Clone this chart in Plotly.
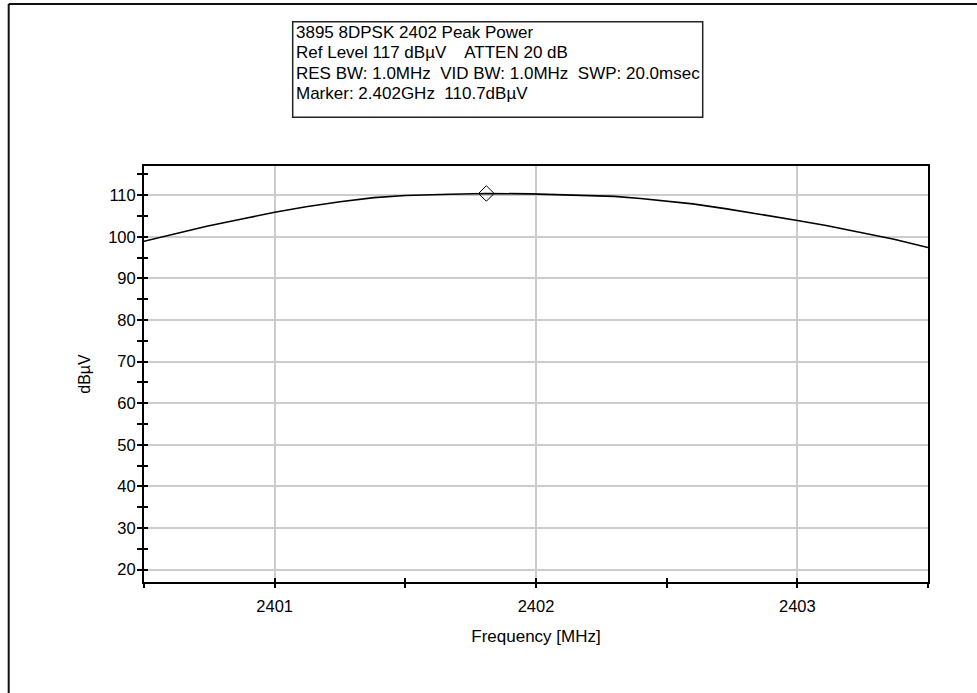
import plotly.graph_objects as go

# ---- data ----
freq_mhz = [2400.50, 2400.61, 2400.74, 2400.87, 2401.00, 2401.12, 2401.25, 2401.38,
            2401.50, 2401.67, 2401.81, 2401.98, 2402.12, 2402.30, 2402.40, 2402.50,
            2402.60, 2402.73, 2402.86, 2403.00, 2403.11, 2403.24, 2403.37, 2403.50]
level_dbuv = [98.9, 100.5, 102.5, 104.2, 105.9, 107.2, 108.4, 109.4,
              109.9, 110.2, 110.4, 110.3, 110.0, 109.7, 109.2, 108.6,
              107.9, 106.7, 105.4, 103.9, 102.7, 101.1, 99.4, 97.4]
marker_freq = [2401.81]
marker_level = [110.4]

info_lines = [
    "3895 8DPSK 2402 Peak Power",
    "Ref Level 117 dBµV    ATTEN 20 dB",
    "RES BW: 1.0MHz  VID BW: 1.0MHz  SWP: 20.0msec",
    "Marker: 2.402GHz  110.7dBµV",
]
x_ticks = [2401, 2402, 2403]
y_ticks = [20, 30, 40, 50, 60, 70, 80, 90, 100, 110]
x_range = [2400.5, 2403.5]
y_range = [17, 117]

FONT = "Liberation Sans, Arial, sans-serif"
W, H = 977, 693
L, R, T, B = 144, 49, 166, 111
PW, PH = W - L - R, H - T - B

def px(xp):
    return (xp - L) / PW

def py(yp):
    return (H - B - yp) / PH

fig = go.Figure()
fig.add_trace(go.Scatter(x=freq_mhz, y=level_dbuv, mode="lines",
                         line=dict(color="black", width=1.6), hoverinfo="skip"))
fig.add_trace(go.Scatter(x=marker_freq, y=marker_level, mode="markers",
                         marker=dict(symbol="diamond-open", size=12, color="black",
                                     line=dict(width=1, color="black"))))
# invisible trace for inside-tick overlay axes
fig.add_trace(go.Scatter(x=x_range, y=y_range, xaxis="x2", yaxis="y2", mode="markers",
                         marker=dict(opacity=0), hoverinfo="skip"))

tickfont = dict(family=FONT, size=16.5, color="black")
fig.update_layout(
    width=W, height=H, autosize=False,
    margin=dict(l=L, r=R, t=T, b=B),
    paper_bgcolor="white", plot_bgcolor="white",
    showlegend=False,
    font=dict(family=FONT, size=16.5, color="black"),
    xaxis=dict(range=x_range, tickvals=x_ticks, ticks="outside", ticklen=4,
               tickwidth=1.5, tickcolor="black", tickfont=tickfont,
               showgrid=True, gridcolor="#cccccc", gridwidth=1.5,
               showline=True, linecolor="black", linewidth=2, mirror=True,
               zeroline=False, ticklabelstandoff=4,
               minor=dict(dtick=0.5, tick0=2400.5, ticks="outside", ticklen=4,
                          tickwidth=1.5, tickcolor="black", showgrid=False),
               title=dict(text="Frequency [MHz]", font=dict(family=FONT, size=17),
                          standoff=16)),
    yaxis=dict(range=y_range, tickvals=y_ticks, ticks="outside", ticklen=5,
               tickwidth=1.5, tickcolor="black", tickfont=tickfont,
               showgrid=True, gridcolor="#cccccc", gridwidth=1.5,
               showline=True, linecolor="black", linewidth=2, mirror=True,
               zeroline=False, ticklabelstandoff=-2,
               minor=dict(dtick=5, tick0=15, ticks="outside", ticklen=5,
                          tickwidth=1.5, tickcolor="black", showgrid=False),
               title=dict(text="dBµV", font=dict(family=FONT, size=16), standoff=14)),
    xaxis2=dict(range=x_range, overlaying="x", anchor="y2", tickvals=x_ticks,
                ticks="inside", ticklen=4, tickwidth=1.5, tickcolor="black",
                showticklabels=False, showgrid=False, showline=False, zeroline=False,
                minor=dict(dtick=0.5, tick0=2400.5, ticks="inside", ticklen=4,
                           tickwidth=1.5, tickcolor="black", showgrid=False)),
    yaxis2=dict(range=y_range, overlaying="y", anchor="x2", side="left", tickvals=y_ticks,
                ticks="inside", ticklen=4, tickwidth=1.5, tickcolor="black",
                showticklabels=False, showgrid=False, showline=False, zeroline=False,
                minor=dict(dtick=5, tick0=15, ticks="inside", ticklen=4,
                           tickwidth=1.5, tickcolor="black", showgrid=False)),
)

# outer frame (top and left edges visible in the reference)
fig.add_shape(type="line", xref="paper", yref="paper", x0=px(8.7), x1=px(990),
              y0=py(4), y1=py(4), line=dict(color="#111111", width=2))
fig.add_shape(type="line", xref="paper", yref="paper", x0=px(8.7), x1=px(8.7),
              y0=py(4), y1=py(700), line=dict(color="#111111", width=2))

# info box
fig.add_shape(type="rect", xref="paper", yref="paper", x0=px(292.7), x1=px(702.7),
              y0=py(117.3), y1=py(21.7), line=dict(color="#222222", width=1.5),
              fillcolor="white")
line_centres = [33, 53, 73, 94]
for txt, yc in zip(info_lines, line_centres):
    fig.add_annotation(xref="paper", yref="paper", x=px(295), y=py(yc),
                       xanchor="left", yanchor="middle", text=txt, showarrow=False,
                       font=dict(family=FONT, size=17, color="black"), borderpad=0)

fig.write_html("out.html", config={"displayModeBar": False},
               post_script="document.body.style.margin='0';document.body.style.overflow='hidden';")
